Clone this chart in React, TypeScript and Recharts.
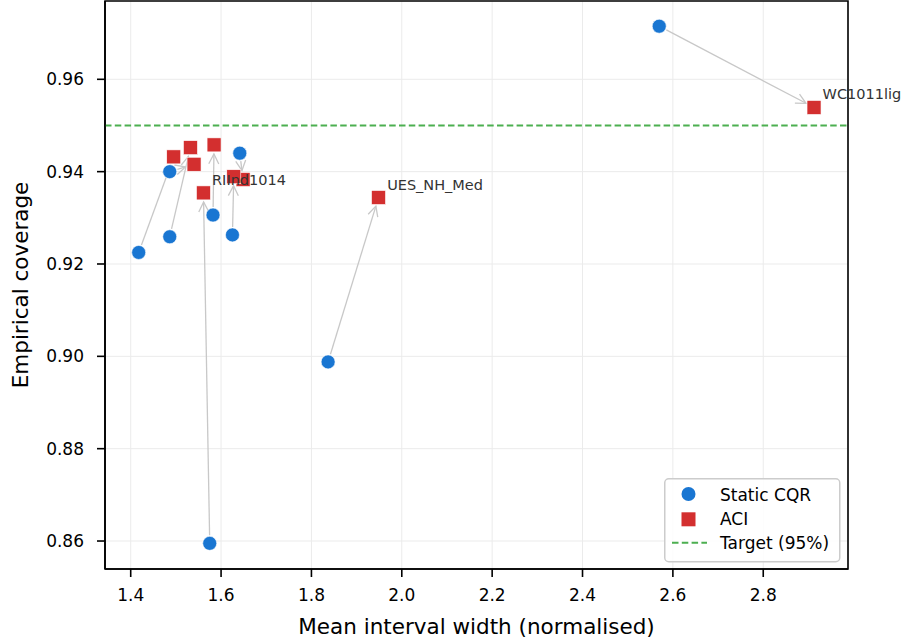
import {
  ScatterChart,
  Scatter,
  XAxis,
  YAxis,
  CartesianGrid,
  ReferenceLine,
  ReferenceArea,
  Legend
} from "recharts";

// one entry per dataset: static CQR point -> ACI point
const datasetNames = ["", "", "", "", "", "", "RIInd1014", "UES_NH_Med", "WC1011lig"];
const staticWidth = [1.4177, 1.4864, 1.4864, 1.5822, 1.6414, 1.6252, 1.5749, 1.8369, 2.5698];
const staticCoverage = [0.9225, 0.9259, 0.94, 0.9306, 0.944, 0.9263, 0.8595, 0.8988, 0.9715];
const aciWidth = [1.4952, 1.5322, 1.5402, 1.5845, 1.6487, 1.6281, 1.561, 1.9485, 2.9124];
const aciCoverage = [0.9432, 0.9452, 0.9416, 0.9458, 0.9383, 0.9389, 0.9354, 0.9344, 0.9539];

const xTicks = [1.4, 1.6, 1.8, 2.0, 2.2, 2.4, 2.6, 2.8];
const yTicks = [0.86, 0.88, 0.9, 0.92, 0.94, 0.96];
const xDomain = [1.3431, 2.9876];
const yDomain = [0.85394, 0.97696];
const target = 0.95;

const BLUE = "#1976D2";
const RED = "#D32F2F";
const GREEN = "#4CAF50";
const ARROW = "#c8c8c8";
const FONT = "DejaVu Sans";

const staticData = staticWidth.map((w, i) => ({ x: w, y: staticCoverage[i] }));
const aciData = aciWidth.map((w, i) => ({ x: w, y: aciCoverage[i], name: datasetNames[i] }));

const CircleShape = (props: any) => (
  <circle cx={props.cx} cy={props.cy} r={7} fill={BLUE} stroke="#fff" strokeWidth={0.6} />
);

const SquareShape = (props: any) => {
  const { cx, cy, payload } = props;
  return (
    <g>
      <rect x={cx - 7} y={cy - 7} width={14} height={14} fill={RED} stroke="#fff" strokeWidth={0.6} />
      {payload.name ? (
        <text x={cx + 8.6} y={cy - 8} fontSize={14.5} fill="#333" fontFamily={FONT}>
          {payload.name}
        </text>
      ) : null}
    </g>
  );
};

// grey arrow from the static point to the ACI point, shortened at both ends
const ArrowShape = (props: any) => {
  const { x1, y1, x2, y2 } = props;
  const dx = x2 - x1;
  const dy = y2 - y1;
  const len = Math.hypot(dx, dy) || 1;
  const ux = dx / len;
  const uy = dy / len;
  const sx = x1 + ux * 8;
  const sy = y1 + uy * 8;
  const ex = x2 - ux * 9;
  const ey = y2 - uy * 9;
  const hl = 10;
  const hw = 5;
  const bx = ex - ux * hl;
  const by = ey - uy * hl;
  return (
    <g>
      <line x1={sx} y1={sy} x2={ex} y2={ey} stroke={ARROW} strokeWidth={1.3} />
      <polyline
        points={`${bx - uy * hw},${by + ux * hw} ${ex},${ey} ${bx + uy * hw},${by - ux * hw}`}
        fill="none"
        stroke={ARROW}
        strokeWidth={1.3}
      />
    </g>
  );
};

const renderLegend = () => (
  <svg width={178} height={86} style={{ display: "block" }}>
    <rect x={0.75} y={0.75} width={175} height={83} rx={4} fill="#fff" fillOpacity={0.85} stroke="#cccccc" strokeWidth={1.5} />
    <circle cx={24.5} cy={16} r={7} fill={BLUE} />
    <text x={56} y={22.5} fontSize={17} fontFamily={FONT} fill="#000">Static CQR</text>
    <rect x={17.5} y={34.3} width={14} height={14} fill={RED} />
    <text x={56} y={46.5} fontSize={17} fontFamily={FONT} fill="#000">ACI</text>
    <line x1={8} y1={64.7} x2={43} y2={64.7} stroke={GREEN} strokeWidth={2} strokeDasharray="6.5 3.3" />
    <text x={56} y={71} fontSize={17} fontFamily={FONT} fill="#000">Target (95%)</text>
  </svg>
);

const tickStyle = { fontSize: 17, fill: "#000", fontFamily: FONT };

export default function App() {
  return (
    <div style={{ position: "absolute", left: 0, top: 0, width: 903, height: 640, background: "#fff" }}>
      <ScatterChart
        width={903}
        height={640}
        margin={{ top: 1, right: 55, bottom: 0, left: 0 }}
        style={{ fontFamily: FONT }}
      >
        <CartesianGrid stroke="#ebebeb" strokeWidth={1} />
        <XAxis
          type="number"
          dataKey="x"
          domain={xDomain}
          ticks={xTicks}
          tickFormatter={(v) => v.toFixed(1)}
          height={71}
          tick={tickStyle}
          tickSize={8}
          tickMargin={12}
          tickLine={{ stroke: "#000", strokeWidth: 1.6 }}
          axisLine={{ stroke: "#000", strokeWidth: 1.6 }}
          label={{
            content: (p: any) => (
              <text
                x={p.viewBox.x + p.viewBox.width / 2}
                y={p.viewBox.y + 65}
                textAnchor="middle"
                fontSize={21.5}
                fontFamily={FONT}
                fill="#000"
              >
                Mean interval width (normalised)
              </text>
            )
          }}
        />
        <YAxis
          type="number"
          dataKey="y"
          domain={yDomain}
          ticks={yTicks}
          tickFormatter={(v) => v.toFixed(2)}
          width={105}
          tick={tickStyle}
          tickSize={8}
          tickMargin={13}
          tickLine={{ stroke: "#000", strokeWidth: 1.6 }}
          axisLine={{ stroke: "#000", strokeWidth: 1.6 }}
          label={{
            content: (p: any) => {
              const cx = p.viewBox.x + 27.5;
              const cy = p.viewBox.y + p.viewBox.height / 2;
              return (
                <text
                  x={cx}
                  y={cy}
                  transform={`rotate(-90 ${cx} ${cy})`}
                  textAnchor="middle"
                  fontSize={21.5}
                  fontFamily={FONT}
                  fill="#000"
                >
                  Empirical coverage
                </text>
              );
            }
          }}
        />
        <ReferenceLine y={target} stroke={GREEN} strokeWidth={2} strokeDasharray="6.5 3.3" />
        <Scatter data={staticData} shape={CircleShape} isAnimationActive={false} />
        <Scatter data={aciData} shape={SquareShape} isAnimationActive={false} />
        {staticData.map((s, i) => (
          <ReferenceLine
            key={i}
            segment={[
              { x: s.x, y: s.y },
              { x: aciData[i].x, y: aciData[i].y }
            ]}
            shape={ArrowShape}
          />
        ))}
        <ReferenceArea
          x1={xDomain[0]}
          x2={xDomain[1]}
          y1={yDomain[0]}
          y2={yDomain[1]}
          fill="none"
          fillOpacity={0}
          stroke="#000"
          strokeWidth={1.6}
        />
        <Legend
          layout="horizontal"
          verticalAlign="middle"
          align="center"
          content={renderLegend}
          wrapperStyle={{ left: 664, top: 478, width: 178, height: 86 }}
        />
      </ScatterChart>
    </div>
  );
}
